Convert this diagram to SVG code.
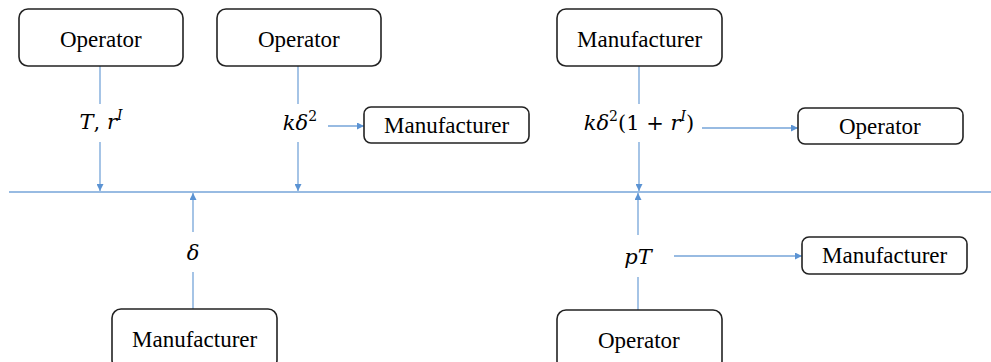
<svg xmlns="http://www.w3.org/2000/svg" width="991" height="362" viewBox="0 0 991 362">
<style>
.box{fill:#fff;stroke:#222;stroke-width:1.6}
.ln{stroke:#76a5d9;stroke-width:1.3;fill:none}
</style>
<defs>
<marker id="ah" viewBox="0 0 10 10" refX="10" refY="5" markerWidth="7" markerHeight="7" markerUnits="userSpaceOnUse" orient="auto">
<path d="M0,0 L10,5 L0,10 Z" fill="#5b93d3"/>
</marker>
</defs>
<rect width="991" height="362" fill="#fff"/>
<g id="connectors">
<line class="ln" x1="9" y1="192" x2="991" y2="192"/>
<line class="ln" x1="100" y1="66" x2="100" y2="104"/>
<line class="ln" x1="100" y1="142" x2="100" y2="191" marker-end="url(#ah)"/>
<line class="ln" x1="298" y1="66" x2="298" y2="104"/>
<line class="ln" x1="298" y1="142" x2="298" y2="191" marker-end="url(#ah)"/>
<line class="ln" x1="328" y1="126" x2="364" y2="126" marker-end="url(#ah)"/>
<line class="ln" x1="639" y1="66" x2="639" y2="104"/>
<line class="ln" x1="639" y1="142" x2="639" y2="191" marker-end="url(#ah)"/>
<line class="ln" x1="702" y1="128" x2="798" y2="128" marker-end="url(#ah)"/>
<line class="ln" x1="193" y1="309" x2="193" y2="272"/>
<line class="ln" x1="193" y1="232" x2="193" y2="193" marker-end="url(#ah)"/>
<line class="ln" x1="638" y1="310" x2="638" y2="277"/>
<line class="ln" x1="638" y1="235" x2="638" y2="193" marker-end="url(#ah)"/>
<line class="ln" x1="674" y1="256" x2="802" y2="256" marker-end="url(#ah)"/>
</g>
<g id="labels">
<text x="101" y="129" text-anchor="middle" font-family="DejaVu Serif" font-size="21" font-style="italic">T<tspan font-style="normal">, </tspan>r<tspan font-size="14" dy="-9">I</tspan></text>
<text x="300" y="130" text-anchor="middle" font-family="DejaVu Serif" font-size="21" font-style="italic">kδ<tspan font-style="normal" font-size="14" dy="-9">2</tspan></text>
<text x="639" y="130" text-anchor="middle" font-family="DejaVu Serif" font-size="21" font-style="italic">kδ<tspan font-style="normal" font-size="14" dy="-9">2</tspan><tspan font-style="normal" dy="9">(1 + </tspan>r<tspan font-size="14" dy="-9">I</tspan><tspan font-style="normal" dy="9">)</tspan></text>
<text x="193" y="260" text-anchor="middle" font-family="DejaVu Serif" font-size="21" font-style="italic">δ</text>
<text x="638" y="264" text-anchor="middle" font-family="DejaVu Serif" font-size="21" font-style="italic">pT</text>
</g>
<g id="n1"><rect class="box" x="19" y="9" width="164" height="57" rx="9"/><text x="60" y="47" font-family="Liberation Serif" font-size="23">Operator</text></g>
<g id="n2"><rect class="box" x="217" y="9" width="164" height="57" rx="9"/><text x="258" y="47" font-family="Liberation Serif" font-size="23">Operator</text></g>
<g id="n3"><rect class="box" x="557" y="9" width="165" height="57" rx="9"/><text x="577" y="47" font-family="Liberation Serif" font-size="23">Manufacturer</text></g>
<g id="n4"><rect class="box" x="364" y="107" width="165" height="36" rx="7"/><text x="384" y="133" font-family="Liberation Serif" font-size="23">Manufacturer</text></g>
<g id="n5"><rect class="box" x="798" y="108" width="165" height="36" rx="7"/><text x="839" y="134" font-family="Liberation Serif" font-size="23">Operator</text></g>
<g id="n6"><rect class="box" x="802" y="237" width="165" height="37" rx="7"/><text x="822" y="263" font-family="Liberation Serif" font-size="23">Manufacturer</text></g>
<g id="n7"><rect class="box" x="112" y="309" width="165" height="60" rx="9"/><text x="132" y="347" font-family="Liberation Serif" font-size="23">Manufacturer</text></g>
<g id="n8"><rect class="box" x="557" y="310" width="165" height="60" rx="9"/><text x="598" y="348" font-family="Liberation Serif" font-size="23">Operator</text></g>
</svg>
